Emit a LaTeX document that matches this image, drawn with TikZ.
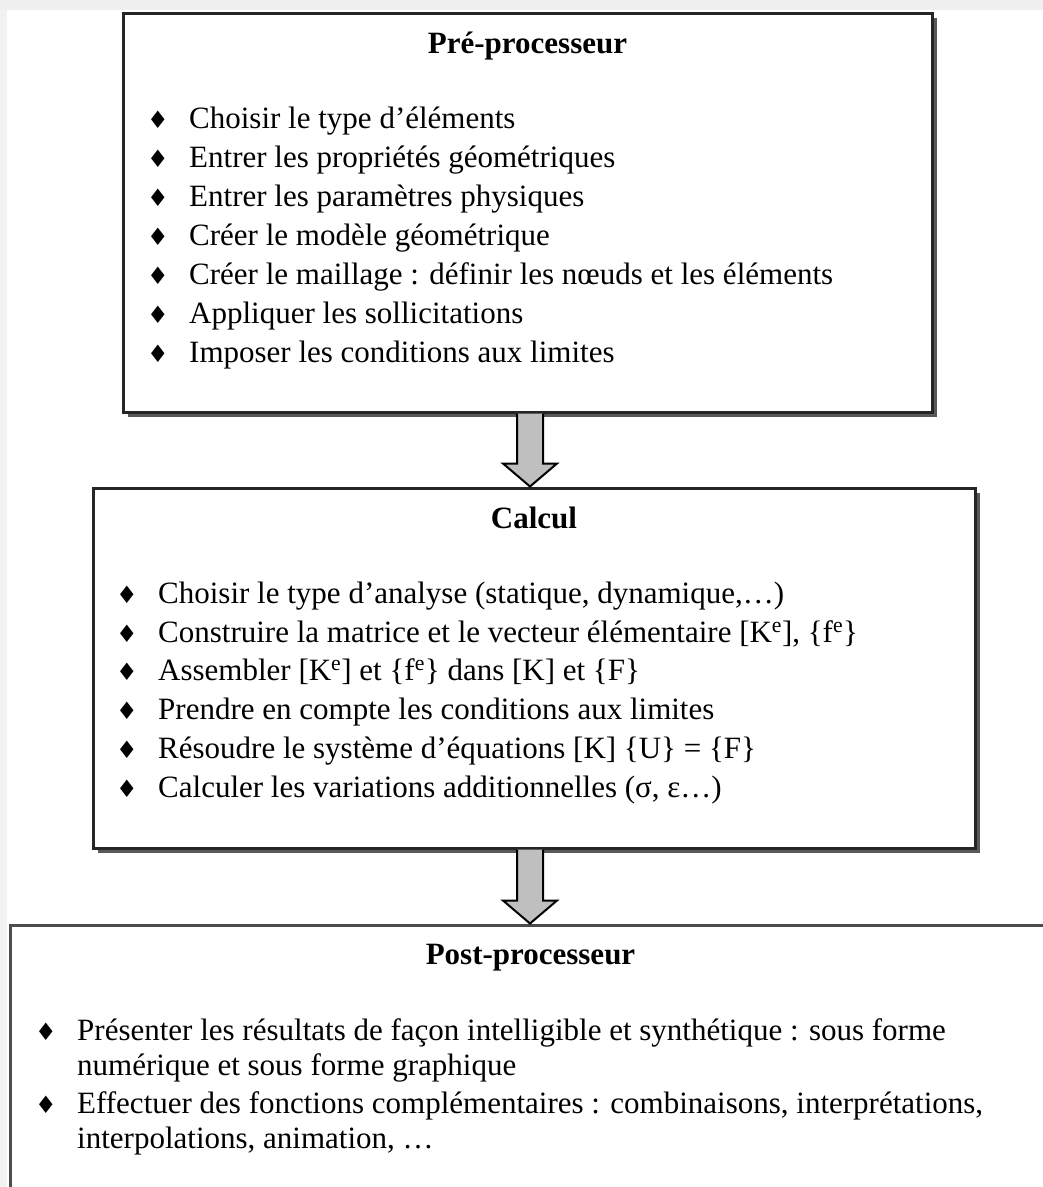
\documentclass[tikz,border=0pt]{standalone}
\usepackage{fontspec}
\setmainfont{Liberation Serif}
\newfontfamily\symfnt{DejaVu Sans}
\usetikzlibrary{calc,shadows}
\newcommand{\bul}{\makebox[42pt][l]{\raisebox{0pt}{\symfnt\fontsize{24}{25}\selectfont ♦}}}
\begin{document}
\begin{tikzpicture}[x=1pt,y=-1pt,
  box/.style={draw=black!85, line width=3pt, fill=white, inner sep=0pt,
    drop shadow={shadow xshift=4.5pt,shadow yshift=-4.5pt,fill=black!65,opacity=1}},
  ttl/.style={font=\fontsize{31}{37}\selectfont\bfseries, anchor=base, inner sep=0pt},
  itm/.style={font=\fontsize{31}{37}\selectfont, anchor=base west, inner sep=0pt},
  fatarrow/.style={draw=black, line width=2pt, fill=gray!50, line join=miter}
]
\useasboundingbox (0,0) rectangle (1043,1187);
\clip (0,0) rectangle (1043,1187);
\fill[white] (0,0) rectangle (1043,1187);
\fill[black!6] (0,0) rectangle (1043,10);
\fill[black!5] (0,10) rectangle (7,1187);

% boxes
\node[box, minimum width=809pt, minimum height=399pt] (pre) at (527.5,212.5) {};
\node[box, minimum width=882pt, minimum height=360pt] (cal) at (534,668) {};
\node[box, draw=black!70, minimum width=1050pt, minimum height=300pt] (post) at (535,1075) {};

% arrows
\coordinate (ax) at (530,0);
\draw[fatarrow] ($(pre.south -| ax)+(-13,0)$) -- ($(cal.north -| ax)+(-13,-23)$)
  -- ($(cal.north -| ax)+(-27,-23)$) -- (cal.north -| ax) -- ($(cal.north -| ax)+(27,-23)$)
  -- ($(cal.north -| ax)+(13,-23)$) -- ($(pre.south -| ax)+(13,0)$);
\draw[fatarrow] ($(cal.south -| ax)+(-13,0)$) -- ($(post.north -| ax)+(-13,-23)$)
  -- ($(post.north -| ax)+(-27,-23)$) -- (post.north -| ax) -- ($(post.north -| ax)+(27,-23)$)
  -- ($(post.north -| ax)+(13,-23)$) -- ($(cal.south -| ax)+(13,0)$);

% Pre-processeur
\node[ttl] (preT) at (527.5,53) {Pré-processeur};
\node[itm] (p1) at (147,128) {\bul Choisir le type d’éléments};
\node[itm] (p2) at (147,167) {\bul Entrer les propriétés géométriques};
\node[itm] (p3) at (147,206) {\bul Entrer les paramètres physiques};
\node[itm] (p4) at (147,245) {\bul Créer le modèle géométrique};
\node[itm] (p5) at (147,284) {\bul Créer le maillage : définir les nœuds et les éléments};
\node[itm] (p6) at (147,323) {\bul Appliquer les sollicitations};
\node[itm] (p7) at (147,362) {\bul Imposer les conditions aux limites};

% Calcul
\node[ttl] (calT) at (534,528) {Calcul};
\node[itm] (c1) at (116,603) {\bul Choisir le type d’analyse (statique, dynamique,…)};
\node[itm] (c2) at (116,642) {\bul Construire la matrice et le vecteur élémentaire [K\textsuperscript{e}], \{f\textsuperscript{e}\}};
\node[itm] (c3) at (116,680) {\bul Assembler [K\textsuperscript{e}] et \{f\textsuperscript{e}\} dans [K] et \{F\}};
\node[itm] (c4) at (116,719) {\bul Prendre en compte les conditions aux limites};
\node[itm] (c5) at (116,758) {\bul Résoudre le système d’équations [K] \{U\} = \{F\}};
\node[itm] (c6) at (116,797) {\bul Calculer les variations additionnelles (σ, ε…)};

% Post-processeur
\node[ttl] (postT) at (530.5,964) {Post-processeur};
\node[itm] (q1) at (35,1040) {\bul Présenter les résultats de façon intelligible et synthétique : sous forme};
\node[itm] (q1b) at (77,1075) {numérique et sous forme graphique};
\node[itm] (q2) at (35,1113) {\bul Effectuer des fonctions complémentaires : combinaisons, interprétations,};
\node[itm] (q2b) at (77,1148) {interpolations, animation, …};
\end{tikzpicture}
\end{document}
